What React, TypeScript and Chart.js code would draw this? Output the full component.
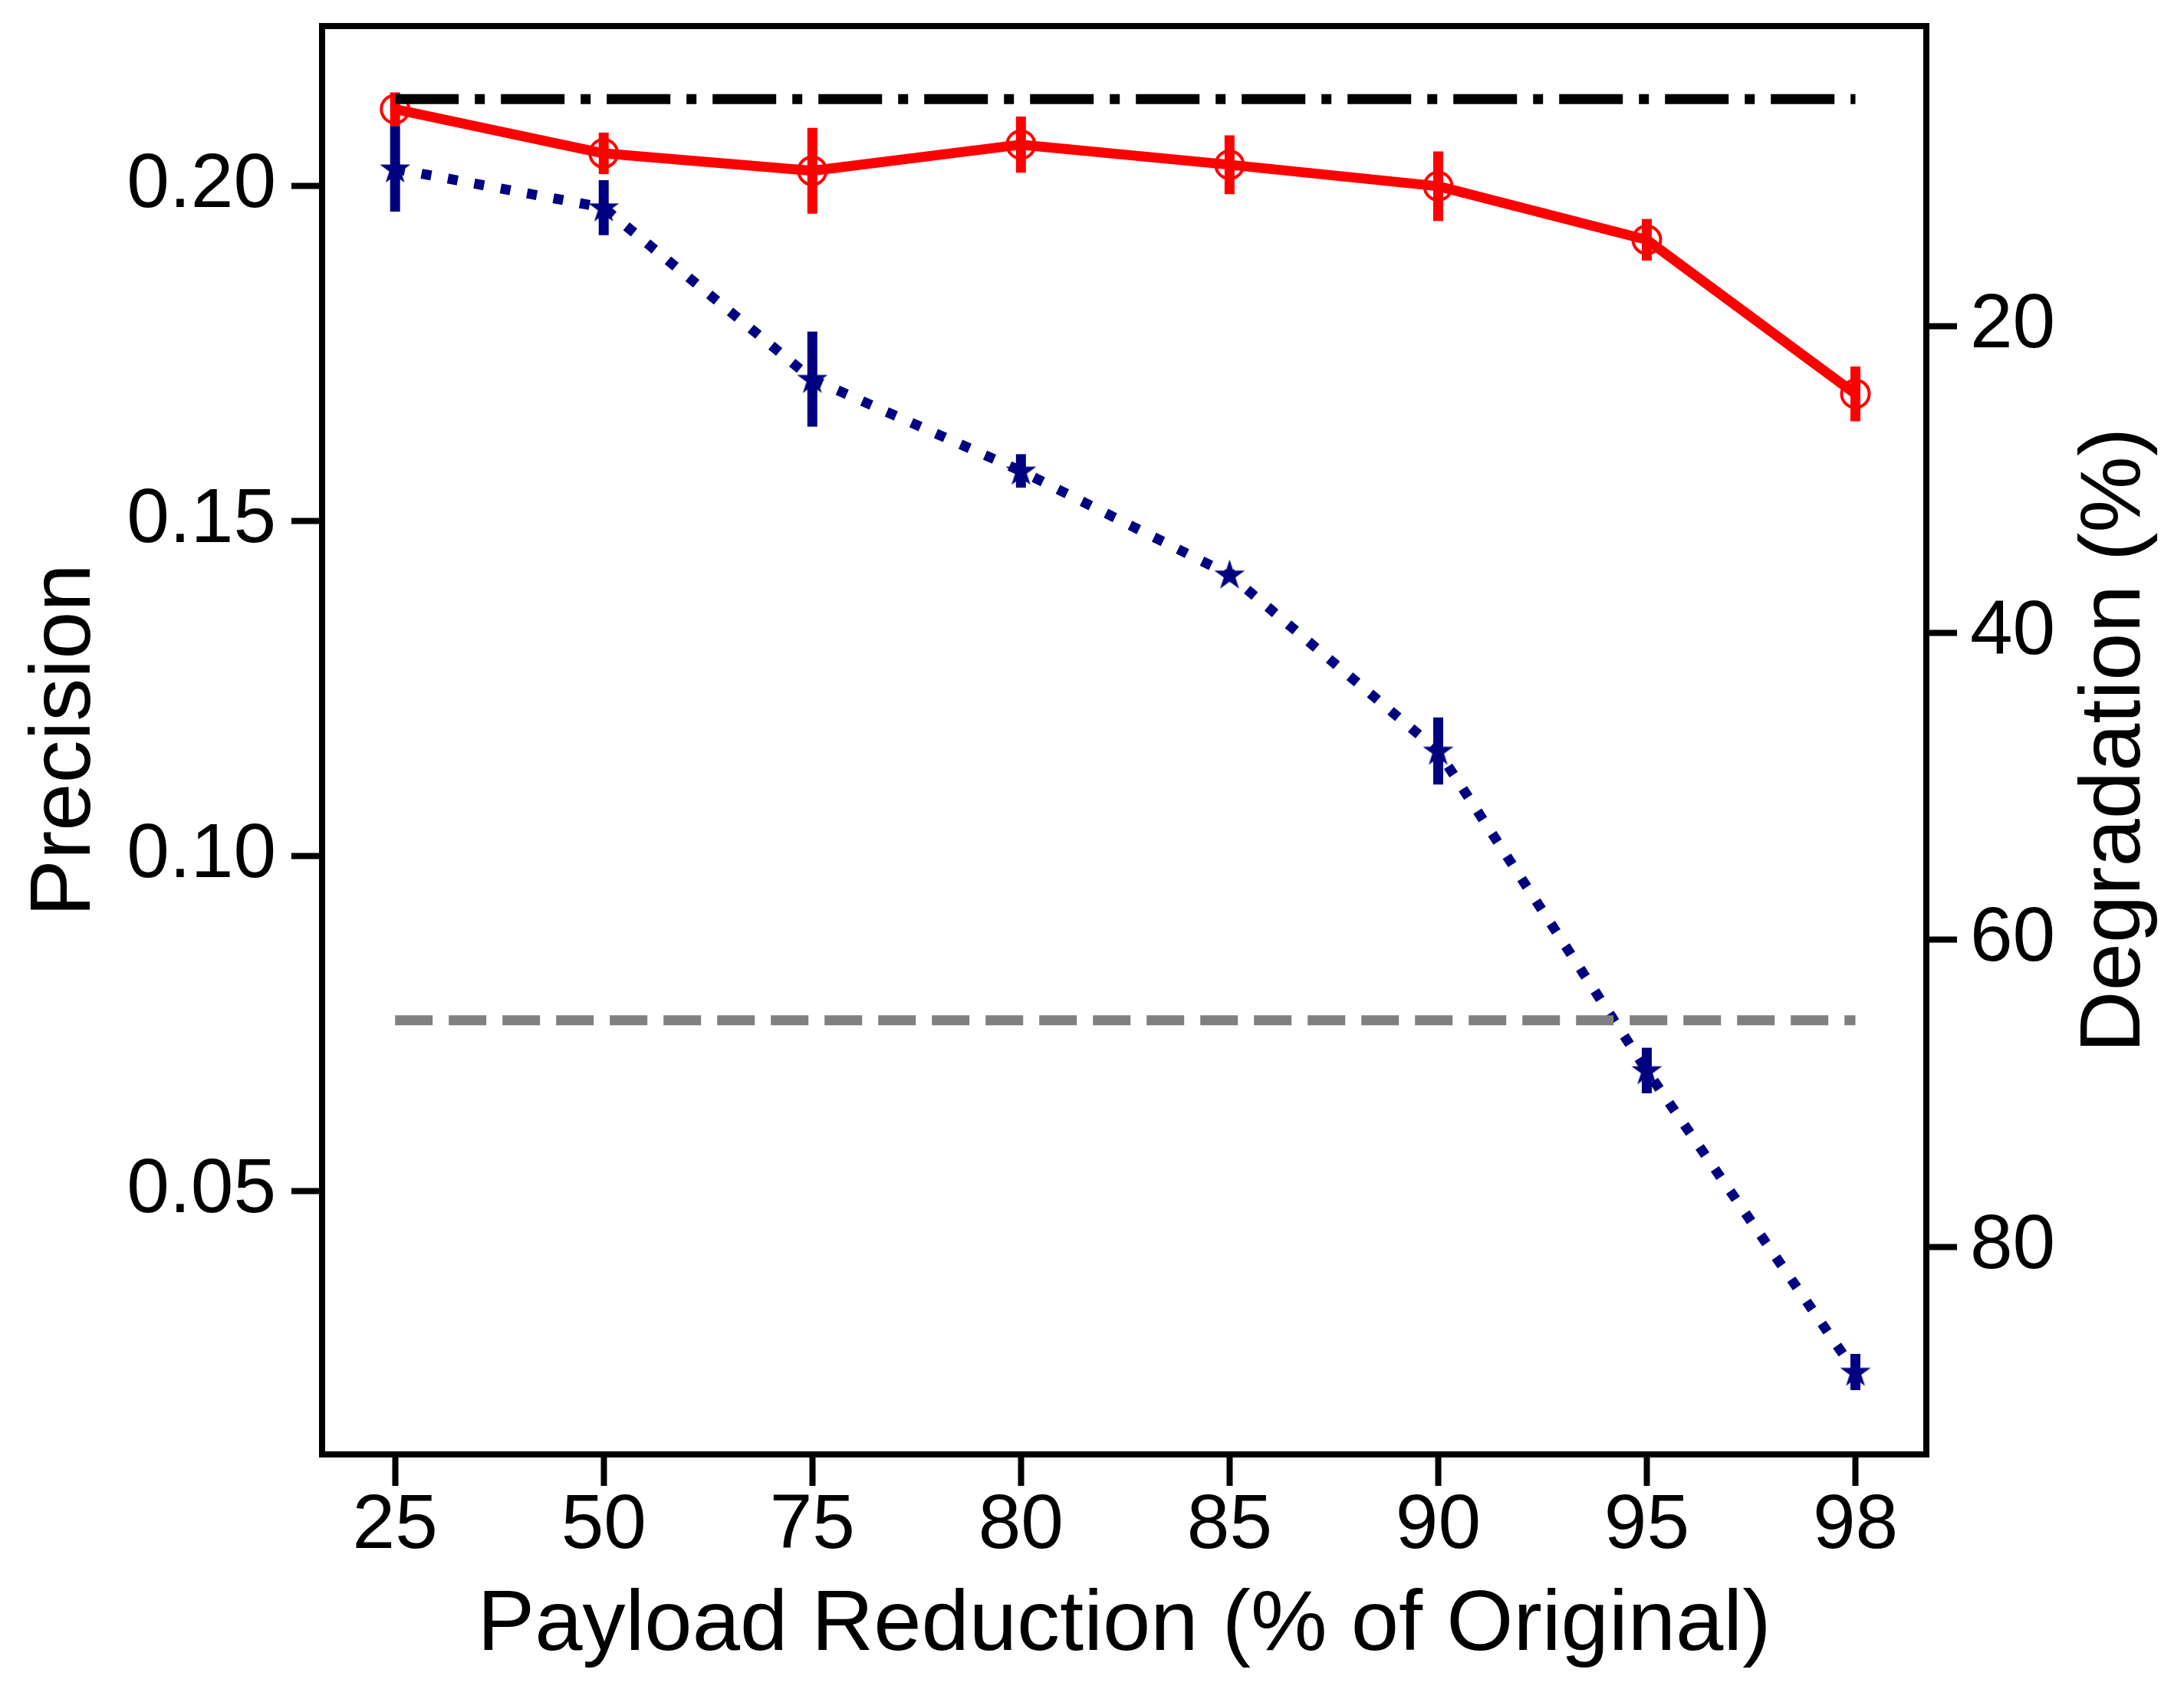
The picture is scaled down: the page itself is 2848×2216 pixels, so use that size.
import { useEffect, useRef } from "react";
import { Chart, registerables, Plugin } from "chart.js";

Chart.register(...registerables);

// x categories: payload reduction in % of original
const reductionLabels = ["25", "50", "75", "80", "85", "90", "95", "98"];

// red series (open circles, solid line)
const redPrecision = [0.2115, 0.2049, 0.2023, 0.2062, 0.2032, 0.2, 0.192, 0.169];
const redError = [0.0025, 0.0031, 0.0064, 0.0042, 0.0044, 0.0052, 0.0031, 0.0041];

// navy series (stars, dotted line)
const navyPrecision = [0.2026, 0.1968, 0.1712, 0.1575, 0.142, 0.1157, 0.068, 0.023];
const navyError = [0.0064, 0.0041, 0.0071, 0.0025, 0.0008, 0.005, 0.0034, 0.0027];

// horizontal reference levels
const fullPayloadPrecision = 0.213;
const randomPrecision = 0.0755;

const precisionTicks = [0.05, 0.1, 0.15, 0.2];
const degradationTicks = [20, 40, 60, 80];

const FONT = '"Liberation Sans", Arial, Helvetica, sans-serif';
const RED = "#ff0000";
const NAVY = "#000080";
const LW = 13;

function makeStar(): HTMLCanvasElement {
  const c = document.createElement("canvas");
  c.width = 46;
  c.height = 46;
  const g = c.getContext("2d")!;
  const R = 21;
  const r = R * 0.382;
  g.beginPath();
  for (let k = 0; k < 10; k++) {
    const rad = k % 2 === 0 ? R : r;
    const a = -Math.PI / 2 + (k * Math.PI) / 5;
    const px = 23 + rad * Math.cos(a);
    const py = 24 + rad * Math.sin(a);
    if (k === 0) g.moveTo(px, py);
    else g.lineTo(px, py);
  }
  g.closePath();
  g.fillStyle = NAVY;
  g.fill();
  return c;
}

const errorBars: Plugin<"line"> = {
  id: "errorBars",
  beforeDatasetDraw(chart, args) {
    const ds = chart.data.datasets[args.index] as any;
    if (!ds.errors) return;
    const { ctx } = chart;
    const xs = chart.scales.x;
    const ys = chart.scales.y;
    ctx.save();
    ctx.strokeStyle = ds.borderColor;
    ctx.lineWidth = LW;
    ctx.lineCap = "butt";
    ds.data.forEach((p: { x: number; y: number }, i: number) => {
      const e = ds.errors[i];
      const px = xs.getPixelForValue(p.x);
      ctx.beginPath();
      ctx.moveTo(px, ys.getPixelForValue(p.y - e));
      ctx.lineTo(px, ys.getPixelForValue(p.y + e));
      ctx.stroke();
    });
    ctx.restore();
  },
};

const frameAndRightTitle: Plugin<"line"> = {
  id: "frameAndRightTitle",
  afterDraw(chart) {
    const { ctx, chartArea: a } = chart;
    ctx.save();
    ctx.strokeStyle = "#000";
    ctx.lineWidth = 8;
    ctx.strokeRect(a.left, a.top, a.right - a.left, a.bottom - a.top);
    const y2 = chart.scales.y2;
    ctx.translate(y2.right - 89, (a.top + a.bottom) / 2);
    ctx.rotate(-Math.PI / 2);
    ctx.font = `112px ${FONT}`;
    ctx.fillStyle = "#000";
    ctx.textAlign = "center";
    ctx.textBaseline = "middle";
    ctx.fillText("Degradation (%)", 0, 0);
    ctx.restore();
  },
};

const tickGrid = (len: number) => ({
  drawOnChartArea: false,
  drawTicks: true,
  tickLength: len,
  tickWidth: 8,
  tickColor: "#000",
});

export default function App() {
  const canvasRef = useRef<HTMLCanvasElement>(null);

  useEffect(() => {
    if (!canvasRef.current) return;
    const star = makeStar();
    const last = reductionLabels.length - 1;

    const chart = new Chart(canvasRef.current, {
      type: "line",
      data: {
        datasets: [
          {
            label: "Reference (full payload)",
            data: [
              { x: 0, y: fullPayloadPrecision },
              { x: last, y: fullPayloadPrecision },
            ],
            borderColor: "#000",
            borderWidth: LW,
            borderDash: [83, 21, 13, 21],
            pointRadius: 0,
            order: 1,
          },
          {
            label: "Random",
            data: [
              { x: 0, y: randomPrecision },
              { x: last, y: randomPrecision },
            ],
            borderColor: "#808080",
            borderWidth: LW,
            borderDash: [49, 21],
            pointRadius: 0,
            order: 2,
          },
          {
            label: "Red",
            data: redPrecision.map((y, i) => ({ x: i, y })),
            errors: redError,
            borderColor: RED,
            borderWidth: LW,
            borderJoinStyle: "round",
            pointStyle: "circle",
            pointRadius: 18,
            pointBorderWidth: 4,
            pointBorderColor: RED,
            pointBackgroundColor: "rgba(0,0,0,0)",
            order: 3,
          } as any,
          {
            label: "Navy",
            data: navyPrecision.map((y, i) => ({ x: i, y })),
            errors: navyError,
            borderColor: NAVY,
            borderWidth: LW,
            borderDash: [13, 22],
            pointStyle: star,
            pointRadius: 21,
            order: 4,
          } as any,
        ],
      },
      options: {
        animation: false,
        responsive: true,
        maintainAspectRatio: false,
        layout: { padding: { top: 31, left: 0, right: 0, bottom: 0 } },
        plugins: {
          legend: { display: false },
          tooltip: { enabled: false },
        },
        scales: {
          x: {
            type: "linear",
            min: -0.35,
            max: 7.34,
            afterBuildTicks: (s: any) => {
              s.ticks = reductionLabels.map((_, i) => ({ value: i }));
            },
            afterFit: (s: any) => {
              s.height = 319;
              s.paddingLeft = 0;
              s.paddingRight = 0;
            },
            grid: tickGrid(41),
            border: { display: false },
            ticks: {
              color: "#000",
              font: { family: FONT, size: 100, lineHeight: 1 },
              padding: 3,
              maxRotation: 0,
              autoSkip: false,
              callback: (v: any) => reductionLabels[Math.round(Number(v))],
            },
            title: {
              display: true,
              text: "Payload Reduction (% of Original)",
              color: "#000",
              font: { family: FONT, size: 112 },
              padding: { top: 0, bottom: 28 },
            },
          },
          y: {
            position: "left",
            min: 0.0107,
            max: 0.2239,
            afterBuildTicks: (s: any) => {
              s.ticks = precisionTicks.map((v) => ({ value: v }));
            },
            afterFit: (s: any) => {
              s.width = 420;
              s.paddingTop = 0;
              s.paddingBottom = 0;
            },
            grid: tickGrid(40),
            border: { display: false },
            ticks: {
              color: "#000",
              font: { family: FONT, size: 100, lineHeight: 1 },
              padding: 20,
              callback: (v: any) => Number(v).toFixed(2),
            },
            title: {
              display: true,
              text: "Precision",
              color: "#000",
              font: { family: FONT, size: 112 },
              padding: { top: 19, bottom: 0 },
            },
          },
          y2: {
            position: "right",
            reverse: true,
            min: 0.44,
            max: 93.54,
            afterBuildTicks: (s: any) => {
              s.ticks = degradationTicks.map((v) => ({ value: v }));
            },
            afterFit: (s: any) => {
              s.width = 336;
              s.paddingTop = 0;
              s.paddingBottom = 0;
            },
            grid: tickGrid(40),
            border: { display: false },
            ticks: {
              color: "#000",
              font: { family: FONT, size: 100, lineHeight: 1 },
              padding: 17,
              callback: (v: any) => String(v),
            },
          },
        },
      },
      plugins: [errorBars, frameAndRightTitle],
    });

    return () => {
      chart.destroy();
    };
  }, []);

  return (
    <div
      style={{
        position: "fixed",
        left: 0,
        top: 0,
        width: 2848,
        height: 2216,
        background: "#fff",
      }}
    >
      <canvas ref={canvasRef} />
    </div>
  );
}
